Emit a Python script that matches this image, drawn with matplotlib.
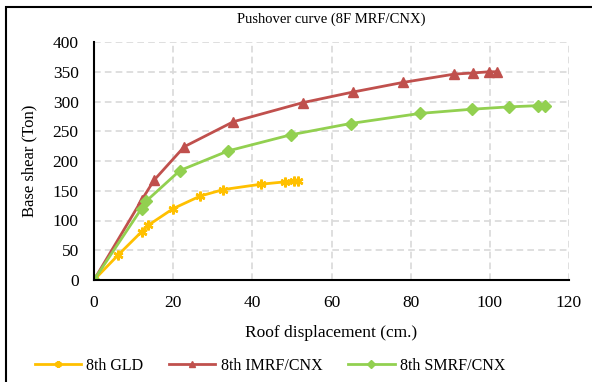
import matplotlib.pyplot as plt
from matplotlib.patches import Rectangle

plt.rcParams['font.family'] = ['Liberation Serif', 'DejaVu Serif']

gld_x = [0, 6.1, 12.0, 13.7, 20.0, 26.8, 32.7, 42.2, 48.3, 50.5, 51.6]
gld_y = [0, 42, 81, 92, 120, 141, 152, 161, 165, 166, 166]

imrf_x = [0, 12.0, 15.2, 22.8, 35.2, 52.7, 65.5, 78.0, 91.0, 95.8, 99.9, 101.9]
imrf_y = [0, 134, 168, 224, 266, 298, 316, 332, 346, 348, 350, 350]

smrf_x = [0, 12.0, 13.1, 21.7, 33.9, 49.7, 64.8, 82.4, 95.4, 104.9, 112.1, 113.9]
smrf_y = [0, 120, 132, 184, 217, 244, 263, 280, 287, 291, 293, 293]

fig = plt.figure(figsize=(5.92, 3.82), dpi=100)
ax = fig.add_axes([94/592, 1-280/382, 475/592, 238/382])

ax.plot(gld_x, gld_y, color='#FFC000', lw=2, marker=(6, 2, 0), ms=7, mew=1.8,
        label='8th GLD')
ax.plot(imrf_x, imrf_y, color='#C0504D', lw=2, marker='^', ms=7,
        label='8th IMRF/CNX')
ax.plot(smrf_x, smrf_y, color='#92D050', lw=2, marker='D', ms=6,
        label='8th SMRF/CNX')

ax.set_xlim(0, 120)
ax.set_ylim(0, 400)
ax.set_xticks(range(0, 121, 20))
ax.set_yticks(range(0, 401, 50))
ax.grid(True, color='#d9d9d9', ls=(0, (4, 2.5)), lw=1.2)
ax.set_axisbelow(True)
for s in ['top', 'right']:
    ax.spines[s].set_visible(False)
for s in ['left', 'bottom']:
    ax.spines[s].set_linewidth(1.5)
ax.tick_params(length=0, labelsize=12.5, pad=11)

ax.set_title('Pushover curve (8F MRF/CNX)', fontsize=10.5, pad=14)
ax.set_xlabel('Roof displacement (cm.)', fontsize=12.5, labelpad=10)
ax.set_ylabel('Base shear (Ton)', fontsize=12, labelpad=11)

ax.legend(loc='center', bbox_to_anchor=(270/592, 16/382), bbox_transform=fig.transFigure,
          ncol=3, frameon=False, fontsize=11.5, handlelength=2.9, handletextpad=0.35,
          columnspacing=1.6, markerscale=0.7)

fig.patches.append(Rectangle((6/592, -0.1), 1.2, 1.1 - 7/382, transform=fig.transFigure,
                             fill=False, edgecolor='black', lw=1.5))

fig.savefig('out.png', dpi=100)
